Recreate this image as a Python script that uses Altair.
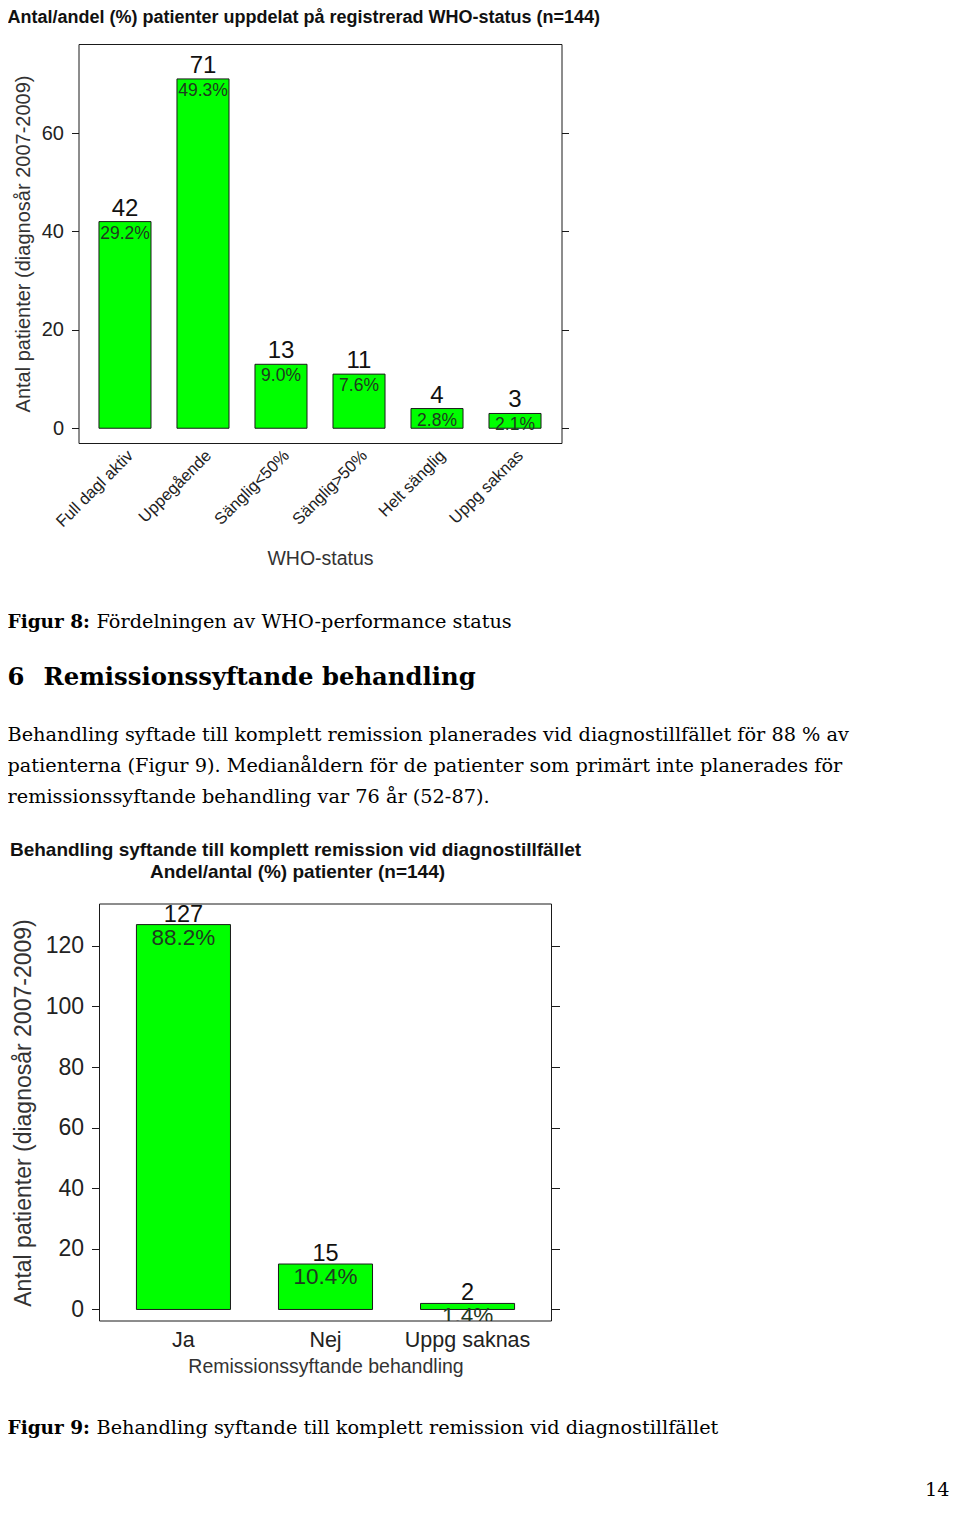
import altair as alt
import pandas as pd

# ---------------- data ----------------
who_cats = ["Full dagl aktiv", "Uppegående", "Sänglig<50%", "Sänglig>50%", "Helt sänglig", "Uppg saknas"]
who_counts = [42, 71, 13, 11, 4, 3]
who_pcts = ["29.2%", "49.3%", "9.0%", "7.6%", "2.8%", "2.1%"]
who_ticks = [0, 20, 40, 60]

rem_cats = ["Ja", "Nej", "Uppg saknas"]
rem_counts = [127, 15, 2]
rem_pcts = ["88.2%", "10.4%", "1.4%"]
rem_ticks = [0, 20, 40, 60, 80, 100, 120]

title1 = "Antal/andel (%) patienter uppdelat på registrerad WHO-status (n=144)"
title2 = ["Behandling syftande till komplett remission vid diagnostillfället",
          "Andel/antal (%) patienter (n=144)"]
ytitle = "Antal patienter (diagnosår 2007-2009)"
xtitle1 = "WHO-status"
xtitle2 = "Remissionssyftande behandling"

fig8_bold = "Figur 8:"
fig8_text = "Fördelningen av WHO-performance status"
head_num = "6"
head_text = "Remissionssyftande behandling"
para_lines = [
    "Behandling syftade till komplett remission planerades vid diagnostillfället för 88 % av",
    "patienterna (Figur 9). Medianåldern för de patienter som primärt inte planerades för",
    "remissionssyftande behandling var 76 år (52-87).",
]
fig9_bold = "Figur 9:"
fig9_text = "Behandling syftande till komplett remission vid diagnostillfället"
page_no = "14"

SANS = "Liberation Sans"
SERIF = "DejaVu Serif"
GREEN = "#00ff00"
EDGE = "#1a1a1a"
INK = "#222222"
PCT_INK = "#1f3a1f"
BODY = 19.3
BODY_B = 18.5


def text_layer(txt, x, y, size, weight="normal", align="left", font=SERIF, color="#000000",
               baseline="middle"):
    return alt.Chart(pd.DataFrame({"t": [txt]})).mark_text(
        align=align, baseline=baseline, font=font, fontSize=size,
        fontWeight=weight, color=color
    ).encode(text="t:N", x=alt.value(x), y=alt.value(y))


X0 = 79   # page x of both charts' group origin
Y1 = 45   # page y of chart 1 plot top
Y2 = 905  # page y of chart 2 plot top

# ---------------- chart 1 ----------------
df1 = pd.DataFrame({"status": who_cats, "antal": who_counts, "andel": who_pcts})
W1, H1 = 483, 399
x1 = alt.X("status:N", sort=who_cats,
           scale=alt.Scale(paddingInner=0.333, paddingOuter=0.2625),
           axis=alt.Axis(title=xtitle1, labelAngle=315, labelAlign="right", labelBaseline="top",
                         labelFontSize=16.5, labelPadding=4, ticks=False, domain=False,
                         labelColor=INK, titleColor="#333333",
                         titleFontSize=19.5, titleFontWeight="normal", titlePadding=20))
y1_scale = alt.Scale(domain=[-3.0, 78.1], nice=False, zero=False)
y1_left = alt.Y("antal:Q", scale=y1_scale,
                axis=alt.Axis(values=who_ticks, title=ytitle, grid=False, domain=False,
                              tickSize=7, tickColor=EDGE, labelFontSize=20, labelPadding=8,
                              labelColor=INK, titleColor="#333333", titleFontSize=20,
                              titleFontWeight="normal", titlePadding=8))
y1_right = alt.Y("antal:Q", scale=y1_scale,
                 axis=alt.Axis(orient="right", values=who_ticks, title="", labels=False,
                               grid=False, domain=False, tickSize=7, tickColor=EDGE))
y1_plain = alt.Y("antal:Q", scale=y1_scale, axis=None)

base1 = alt.Chart(df1).encode(x=x1)
bars1 = base1.mark_bar(color=GREEN, stroke=EDGE, strokeWidth=1).encode(y=y1_left, y2=alt.datum(0))
right1 = base1.mark_bar(opacity=0).encode(y=y1_right, y2=alt.datum(0))
cnt1 = base1.mark_text(baseline="alphabetic", dy=-6, fontSize=24, font=SANS, color="#111111").encode(
    y=y1_plain, text="antal:Q")
pct1 = base1.mark_text(baseline="top", dy=3, fontSize=17.5, font=SANS, color=PCT_INK, clip=True).encode(
    y=y1_plain, text="andel:N")

texts1 = [
    text_layer(title1, 8 - X0, 24 - Y1, 18, "bold", font=SANS, color="#111111", baseline="alphabetic"),
    text_layer(fig8_bold, 8 - X0, 623 - Y1, BODY_B, "bold"),
    text_layer(fig8_text, 97 - X0, 623 - Y1, BODY),
    text_layer(head_num, 8 - X0, 679 - Y1, 24.3, "bold"),
    text_layer(head_text, 44 - X0, 679 - Y1, 24.3, "bold"),
    text_layer(para_lines[0], 8 - X0, 736 - Y1, BODY),
    text_layer(para_lines[1], 8 - X0, 767 - Y1, BODY),
    text_layer(para_lines[2], 8 - X0, 798 - Y1, BODY),
]

c1 = alt.layer(bars1, right1, cnt1, pct1, *texts1).resolve_axis(y="independent").properties(
    width=W1, height=H1,
    view=alt.ViewBackground(stroke=EDGE, strokeWidth=1),
)

# ---------------- chart 2 ----------------
df2 = pd.DataFrame({"beh": rem_cats, "antal": rem_counts, "andel": rem_pcts})
SH = 21            # plot frame starts 21px right of chart 1's plot
W2, H2 = 473, 417  # group width (frame spans SH..W2)
x2 = alt.X("beh:N", sort=rem_cats,
           scale=alt.Scale(range=[SH, W2], paddingInner=0.338, paddingOuter=0.26),
           axis=alt.Axis(title=xtitle2, labelAngle=0, labelFontSize=21.5, labelPadding=8,
                         ticks=False, domain=False, labelColor=INK, titleColor="#333333",
                         titleFontSize=19.5, titleFontWeight="normal", titlePadding=7))
y2_scale = alt.Scale(domain=[-3.8, 133.8], nice=False, zero=False)
y2_left = alt.Y("antal:Q", scale=y2_scale,
                axis=alt.Axis(values=rem_ticks, title=ytitle, grid=False, domain=False, offset=-SH,
                              tickSize=8, tickColor=EDGE, labelFontSize=23, labelPadding=8,
                              labelColor=INK, titleColor="#333333", titleFontSize=23,
                              titleFontWeight="normal", titlePadding=10))
y2_right = alt.Y("antal:Q", scale=y2_scale,
                 axis=alt.Axis(orient="right", values=rem_ticks, title="", labels=False,
                               grid=False, domain=False, tickSize=8, tickColor=EDGE))
y2_plain = alt.Y("antal:Q", scale=y2_scale, axis=None)

base2 = alt.Chart(df2).encode(x=x2)
bars2 = base2.mark_bar(color=GREEN, stroke=EDGE, strokeWidth=1).encode(y=y2_left, y2=alt.datum(0))
right2 = base2.mark_bar(opacity=0).encode(y=y2_right, y2=alt.datum(0))
cnt2 = base2.mark_text(baseline="alphabetic", dy=-3, fontSize=23.5, font=SANS, color="#111111").encode(
    y=y2_plain, text="antal:Q")
pct2 = base2.mark_text(baseline="top", dy=2, fontSize=22.5, font=SANS, color=PCT_INK, clip=True).encode(
    y=y2_plain, text="andel:N")
frame2 = alt.Chart(pd.DataFrame({"f": [0]})).mark_rect(
    filled=False, stroke=EDGE, strokeWidth=1
).encode(x=alt.value(SH), x2=alt.value(W2), y=alt.value(0), y2=alt.value(H2))

texts2 = [
    text_layer(title2[0], 296 - X0, 857 - Y2, 19, "bold", align="center", font=SANS,
               color="#111111", baseline="alphabetic"),
    text_layer(title2[1], 298 - X0, 879 - Y2, 19, "bold", align="center", font=SANS,
               color="#111111", baseline="alphabetic"),
    text_layer(fig9_bold, 8 - X0, 1429 - Y2, BODY_B, "bold"),
    text_layer(fig9_text, 97 - X0, 1429 - Y2, BODY),
    text_layer(page_no, 950 - X0, 1497 - Y2, BODY, align="right", baseline="alphabetic"),
]

c2 = alt.layer(bars2, right2, cnt2, pct2, frame2, *texts2).resolve_axis(y="independent").properties(
    width=W2, height=H2,
)

chart = alt.vconcat(c1, c2, spacing=Y2 - (Y1 + H1), bounds="flush").properties(
    padding={"top": 0, "left": -1.5, "right": 0, "bottom": 0}
).configure(font=SANS).configure_view(stroke="transparent").configure_axis(
    labelFont=SANS, titleFont=SANS
)

chart.save("out.html", embed_options={"renderer": "svg", "actions": False})
